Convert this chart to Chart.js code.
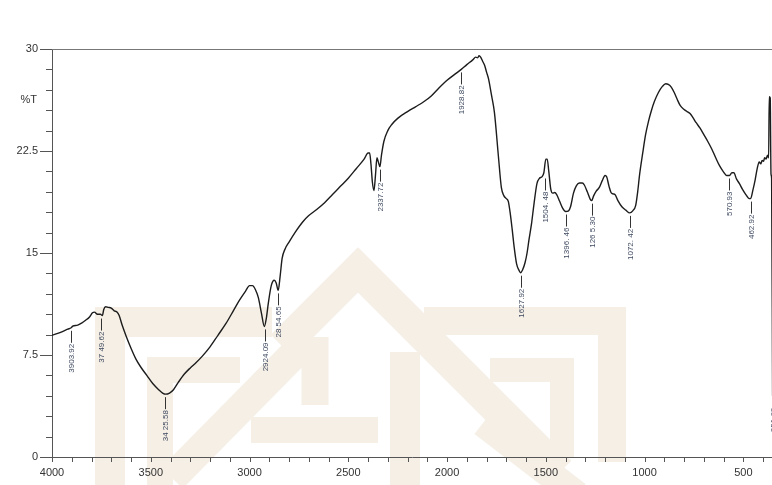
<!DOCTYPE html>
<html>
<head>
<meta charset="utf-8">
<script src="https://cdn.jsdelivr.net/npm/chart.js@4/dist/chart.umd.min.js"></script>
<style>
  html,body{margin:0;padding:0;background:#fff;}
  #wrap{width:772px;height:485px;position:relative;}
</style>
</head>
<body>
<div id="wrap"><canvas id="c" width="772" height="485"></canvas></div>
<script>
/* ====== FTIR spectrum (%T vs wavenumber) ====== */
const wavenumber = [
  4000,3960,3920,3903,3895,3870,3850,3830,3810,3795,3785,3770,3755,3745,3738,3728,3715,3700,3685,3670,
  3660,3645,3625,3600,3575,3550,3520,3490,3460,3440,3425,3405,3385,3360,3330,3300,3270,3240,3200,3160,
  3120,3080,3050,3020,3000,2985,2970,2955,2940,2925,2915,2905,2890,2875,2865,2855,2845,2835,2820,2800,
  2770,2730,2700,2660,2620,2580,2540,2500,2460,2420,2400,2392,2385,2378,2370,2362,2355,2348,2340,2332,
  2320,2300,2280,2250,2200,2160,2120,2080,2040,2000,1960,1928,1900,1870,1855,1845,1838,1830,1820,1810,
  1800,1790,1775,1760,1740,1725,1712,1700,1690,1680,1670,1660,1648,1635,1628,1618,1605,1595,1585,1572,
  1560,1545,1532,1520,1510,1500,1493,1485,1475,1465,1455,1445,1430,1415,1400,1385,1375,1360,1345,1330,
  1315,1305,1290,1275,1268,1258,1245,1230,1215,1200,1192,1180,1170,1160,1150,1135,1115,1095,1075,1060,
  1045,1035,1025,1010,995,980,965,950,930,910,893,880,865,850,835,820,800,785,770,755,
  740,720,700,680,660,640,620,600,585,570,558,548,535,520,505,490,475,463,452,440,
  430,420,412,405,398,392,385,378,372,369,364,360,357,352
];
const transmittance = [
  8.95,9.15,9.4,9.5,9.62,9.7,9.85,10.05,10.3,10.6,10.65,10.5,10.5,10.4,10.85,11.05,11.0,10.95,10.75,10.65,
  10.4,9.7,8.9,8.0,7.2,6.6,6.0,5.4,4.95,4.7,4.62,4.7,4.95,5.5,6.1,6.55,6.95,7.4,8.1,8.95,
  9.8,10.8,11.55,12.2,12.6,12.6,12.3,11.7,10.6,9.6,10.2,11.3,12.6,13.0,12.8,12.25,13.3,14.6,15.3,15.8,
  16.5,17.3,17.75,18.2,18.7,19.3,19.9,20.5,21.2,21.9,22.35,22.35,21.5,20.2,19.6,20.8,22.0,21.7,21.35,22.2,
  23.2,24.0,24.45,24.9,25.4,25.75,26.1,26.55,27.15,27.7,28.15,28.5,28.85,29.2,29.4,29.35,29.5,29.4,29.1,28.8,
  28.3,27.8,26.6,25.3,22.1,19.8,19.2,19.0,18.8,17.9,16.7,15.4,14.2,13.7,13.55,13.75,14.3,15.0,16.0,17.2,
  18.6,20.1,20.5,20.6,20.9,21.9,21.9,21.0,19.7,19.4,19.45,19.3,18.8,18.3,18.05,18.1,18.4,19.4,19.95,20.15,
  20.15,20.0,19.5,18.95,18.85,19.2,19.55,19.8,20.3,20.7,20.6,19.9,19.45,19.35,19.3,18.85,18.4,18.15,17.95,18.1,
  18.5,19.5,20.8,22.3,23.7,24.7,25.5,26.15,26.8,27.25,27.45,27.4,27.2,26.8,26.3,25.85,25.55,25.4,25.25,24.95,
  24.6,24.2,23.7,23.2,22.65,22.0,21.4,20.95,20.7,20.7,20.9,20.9,20.45,20.1,19.7,19.35,19.05,19.0,19.6,20.4,
  21.2,21.7,21.55,21.8,21.75,22.0,21.9,22.2,22.0,26.5,26.4,20.8,20.5,4.5
];

/* ====== peak labels ====== */
const peakWn   = [3903.92,3749.62,3425.58,2924.09,2854.65,2337.72,1928.82,1627.92,1504.48,1396.46,1265.30,1072.42,570.93,462.92,351.6];
const peakText = ['3903.92','37 49.62','34 25.58','2924.09','28 54.65','2337.72','1928.82','1627.92','1504. 48','1396. 46','126 5.30','1072. 42','570.93','462.92','351.60'];
const peakT    = [9.5,10.4,4.62,9.6,12.25,21.35,28.5,13.55,20.7,18.05,18.85,17.95,20.7,19.0,4.8];

/* ====== axes ====== */
const xMajor = [4000,3500,3000,2500,2000,1500,1000,500];
const yMajor = [0,7.5,15,22.5,30];
const xMinorStep = 100, yMinorStep = 1.5;

const AXIS = '#555';
const FONT = 'Liberation Sans, Arial, sans-serif';

/* ====== 背景の透かし（ロゴ）: 装飾のみ ====== */
const watermark = {
  id:'watermark',
  beforeDraw(chart){
    const ctx = chart.ctx;
    ctx.save();
    ctx.fillStyle = '#fff';
    ctx.fillRect(0,0,chart.width,chart.height);
    ctx.strokeStyle = '#f5efe6';
    ctx.lineCap = 'butt'; ctx.lineJoin = 'miter';
    const poly = (w, pts) => {
      ctx.lineWidth = w; ctx.beginPath();
      pts.forEach((p,i)=> i ? ctx.lineTo(p[0],p[1]) : ctx.moveTo(p[0],p[1]));
      ctx.stroke();
    };
    poly(30, [[110,495],[110,322],[272,322]]);
    poly(26, [[160,495],[160,370],[240,370]]);
    poly(30, [[172,478],[302,346]]);
    poly(32, [[282,346],[358,270],[470,382],[560,472]]);
    poly(27, [[315,337],[315,405]]);
    poly(30, [[405,352],[405,495]]);
    poly(26, [[251,430],[378,430]]);
    poly(28, [[424,321],[612,321],[612,462]]);
    poly(24, [[490,370],[562,370],[562,458]]);
    poly(28, [[483,423],[577,495]]);
    ctx.restore();
  }
};

/* ====== 目盛・枠・ピークラベル ====== */
const decor = {
  id:'decor',
  afterDraw(chart){
    const {ctx, chartArea:a, scales:{x,y}} = chart;
    ctx.save();
    // top frame line
    ctx.strokeStyle = '#777'; ctx.lineWidth = 1;
    ctx.beginPath(); ctx.moveTo(a.left, a.top+0.5); ctx.lineTo(a.right, a.top+0.5); ctx.stroke();
    // y ticks
    ctx.strokeStyle = AXIS;
    for(let v=0; v<=30.001; v+=yMinorStep){
      const py = Math.round(y.getPixelForValue(v))+0.5;
      const major = yMajor.some(m=>Math.abs(m-v)<1e-6);
      ctx.beginPath(); ctx.moveTo(a.left-(major?12:6), py); ctx.lineTo(a.left, py); ctx.stroke();
    }
    // x ticks
    for(let v=4000; v>=x.min; v-=xMinorStep){
      const px = Math.round(x.getPixelForValue(v))+0.5;
      ctx.beginPath(); ctx.moveTo(px, a.bottom); ctx.lineTo(px, a.bottom+5); ctx.stroke();
    }
    // %T
    ctx.fillStyle = '#333'; ctx.font = '11px '+FONT;
    ctx.textAlign = 'right'; ctx.textBaseline = 'middle';
    ctx.fillText('%T', 37, y.getPixelForValue(26.25));
    // peak labels
    ctx.font = '8px '+FONT;
    ctx.lineWidth = 1;
    peakWn.forEach((wn,i)=>{
      const px = Math.round(x.getPixelForValue(wn))+0.5;
      const top = y.getPixelForValue(peakT[i]) + 3;
      ctx.strokeStyle = '#333';
      ctx.beginPath(); ctx.moveTo(px, top); ctx.lineTo(px, top+12); ctx.stroke();
      ctx.save();
      ctx.translate(px, top+13);
      ctx.rotate(-Math.PI/2);
      ctx.fillStyle = '#3f4a60';
      ctx.textAlign = 'right'; ctx.textBaseline = 'middle';
      ctx.fillText(peakText[i], 0, 0);
      ctx.restore();
    });
    ctx.restore();
  }
};

const points = wavenumber.map((w,i)=>({x:w, y:transmittance[i]}));

new Chart(document.getElementById('c'), {
  type:'line',
  data:{datasets:[{
    data:points,
    borderColor:'#1c1c1c',
    borderWidth:1.4,
    pointRadius:0,
    cubicInterpolationMode:'monotone',
    fill:false
  }]},
  options:{
    responsive:false,
    animation:false,
    layout:{padding:{top:49,right:0,left:0,bottom:0}},
    plugins:{legend:{display:false}, tooltip:{enabled:false}},
    scales:{
      x:{
        type:'linear', reverse:true, min:355, max:4000,
        afterBuildTicks: s => { s.ticks = xMajor.map(v=>({value:v})); },
        afterFit: s => { s.height = 28; },
        grid:{display:true, drawOnChartArea:false, drawTicks:false},
        border:{display:true, color:AXIS, width:1},
        ticks:{padding:9, color:'#333', font:{family:FONT, size:11}, maxRotation:0, autoSkip:false,
               callback:v=>String(v)}
      },
      y:{
        type:'linear', min:0, max:30,
        afterBuildTicks: s => { s.ticks = yMajor.map(v=>({value:v})); },
        afterFit: s => { s.width = 52; },
        grid:{display:true, drawOnChartArea:false, drawTicks:false},
        border:{display:true, color:AXIS, width:1},
        ticks:{padding:14, color:'#333', font:{family:FONT, size:11}, callback:v=>String(v)}
      }
    }
  },
  plugins:[watermark, decor]
});
</script>
</body>
</html>
